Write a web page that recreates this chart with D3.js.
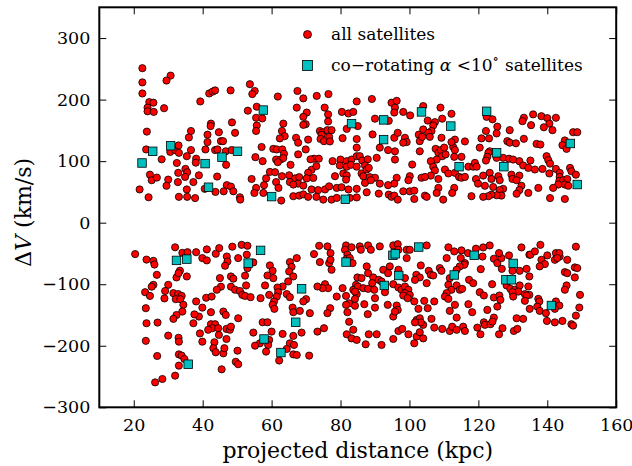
<!DOCTYPE html>
<html>
<head>
<meta charset="utf-8">
<script src="https://cdn.jsdelivr.net/npm/d3@7"></script>
<style>
  body { margin: 0; background: #fff; }
  text { font-family: "DejaVu Serif", "Liberation Serif", serif; fill: #000; }
</style>
</head>
<body>
<div id="main"></div>
<script>
const ctx = {
    w: 632,
    h: 466,
    margin: {top: 7.3, right: 15.8, bottom: 58.7, left: 99.3},
    font: '"DejaVu Serif", "Liberation Serif", serif',
};

// axis ranges and ticks
const xDomain = [10, 160];
const yDomain = [-300, 350];
const xTicks = [20, 40, 60, 80, 100, 120, 140, 160];
const yTicks = [-300, -200, -100, 0, 100, 200, 300];

// all satellites, positive delta V : [projected distance (kpc), delta V (km/s)]
const upperSats = [
  [22.5,251],[22.5,228],[30.7,239],[29.5,231],[22.5,210],[24.5,196],[25.7,195],[24,187],[24,181],[25.8,180],
  [28.8,186],[39.3,197],[41.9,210],[42.9,213],[43.6,215],[48.1,215],[23.8,148],[42.4,161],[42.3,157],[48.5,163],
  [36.6,149],[36,138.5],[41.4,143],[44.7,147],[49.4,146],[41.4,131],[45.3,132.5],[45.9,132.5],[43.6,118],[44.3,119],
  [46.7,116],[48.4,118],[23.6,119],[30.6,115],[32,118],[33,125.5],[33.1,113.5],[36.6,118],[40.8,119],[35.4,108],
  [38.1,104],[38,97.5],[28.1,103],[32.5,97],[46.8,94],[35,87.4],[35.5,82],[34.9,74.4],[32.9,81],[38.9,77],
  [24.7,78],[25.2,69],[26.7,73.3],[30,70],[29.5,60],[32.8,66],[44.2,75],[37.3,66],[35.4,54],[40.6,55],
  [47,61],[48.2,58.7],[48.9,51],[43.7,50],[46.1,51],[21.7,54],[24.3,41.3],[33.1,42],[35.5,42],[37.8,40],
  [50.8,41.3],[50.9,37.5],
  [53.7,225],[55.1,214],[54.4,209],[61.8,205],[67.5,214],[69.2,202],[73.1,206],[76.5,209],[84.7,197],[53.1,182],
  [55.7,188.4],[55.5,170.5],[57.3,169.4],[55.7,158],[55.5,149],[67.3,187],[70.2,179],[69.2,172],[75.4,187],[76.4,176],
  [76.4,164.5],[80.4,180],[82.3,177.5],[83.7,180],[81.8,152.5],[63.4,161],[63,149],[63.8,140.6],[62.4,137],[69.9,160],
  [69.2,159],[74,149],[74.8,147],[76.2,150.4],[77.4,150.4],[74.5,143],[74.2,136],[75.2,132.5],[76.7,139.5],[76.9,132],
  [67.1,138],[67.7,130],[70.6,135],[80.6,137.4],[84.7,136],[57.1,123],[60.5,120],[61.5,119],[63.1,119],[63.6,112],
  [69.9,119],[67.7,111],[55.3,106.5],[57.4,100],[61.3,102.6],[62.6,102.6],[63.4,105],[72.3,104],[73.7,104],[71.3,103],
  [77.7,100],[80,102.6],[81.8,100],[83.2,102.6],[84.7,108],[65.5,94],[61.8,98.3],[71.6,86],[70.6,81],[73,92],
  [79.8,93],[81.8,91],[83,94],[84.7,91],[59.5,82.5],[61,82],[63,75.5],[65.1,77],[66.8,72],[65.3,66],
  [68,74],[67.7,63.5],[70.2,72],[72.1,72.8],[78.4,75.5],[80.8,80],[81.8,77],[81.6,70],[54.2,71],[58.4,72],
  [57.8,61],[61.3,66],[62,56.5],[66.3,62],[69.2,60.3],[71.6,54],[73.5,53],[75.5,54],[76.7,59],[78.9,56.5],
  [80.3,57.6],[82.3,54],[84.7,55],[55.5,56.5],[55,48.3],[57.6,48.3],[62.8,36],[66.3,43],[68,44],[69.2,46],
  [70.6,42],[73,42],[75,37.5],[77.4,37.5],[78.9,40.2],[82.7,40.2],
  [89.1,201],[94.8,195],[96.3,198],[95.8,187],[95.6,179],[98.2,180],[100.2,174.3],[104,189.5],[109,187],[112.2,177],
  [90,169],[94,165.6],[105.3,166],[107.4,163.4],[106.9,158],[106.4,149],[109.5,169],[85,157],[89.3,143.4],[95.6,138],
  [96.6,146],[98.7,138],[99.2,131],[98.2,130],[93.8,118],[95.8,116],[91.4,122],[102.7,143],[103,132.5],[104,151.5],
  [103.7,139.5],[105.5,146],[105.9,139.5],[109.3,138],[113.2,135],[112.7,123],[112.2,131],[116.1,132],[84.7,122],[85.6,108],
  [86.3,101],[87.9,103],[87.1,93],[86.1,80],[87.6,86.4],[88.2,89],[86.6,75.5],[88.5,74],[87.1,64.6],[90.5,105.4],
  [95.8,102.6],[100.8,94.5],[103,116],[107.6,120],[108.4,113.5],[109.1,118],[109.5,108],[110.5,111],[110.1,122],[107.9,102.6],
  [113.2,118],[113,107],[115.1,107],[106.2,100],[106.9,91],[107.4,85],[117.1,91],[118.5,91],[110.3,86.4],[111.3,80],
  [113.2,81],[114.4,74.4],[115.1,73],[116.1,74.4],[108.4,71],[108.4,56.5],[106.2,76.5],[103.5,73],[104.5,74.4],[96.3,73],
  [95.6,63.5],[100.1,75.5],[99.7,69],[93.8,61],[91.4,63.5],[90,73],[88.8,69],[87.6,49.4],[91.1,47.3],[94,45.6],
  [94.8,42],[95.6,44],[96.6,37.5],[98.2,51],[100.1,51],[101.4,52],[101.4,38.5],[104.5,44],[105,42],[107.9,48.3],
  [109.8,37.5],[113,56.5],[112.4,48.3],[118,43],[84.7,41],
  [122.4,172],[124.1,168],[133.2,170.5],[132.8,165],[135.9,176],[138.3,173],[140,170],[142.5,170.5],[140.6,161],[139,155],
  [135.3,158.5],[141.5,150.4],[147.5,147],[148.7,147],[125.5,156],[125.3,145],[122.2,149],[123.1,137],[120.9,137],[129.1,150.4],
  [128.4,132.5],[129.1,130],[130.9,129],[133.2,136.3],[136.9,128],[138,127],[145.1,133.6],[144.4,126],[145.6,120],[120.4,122],
  [123.3,116],[122.9,113.5],[122.6,107],[122.2,101],[125.3,105.4],[127.2,105.4],[128.9,104],[139.8,108],[140.3,101.6],[140.8,96],
  [119,97.2],[119.5,91],[130.1,102.6],[131.9,100],[133,93],[134.5,89],[135.1,101],[136.4,86.4],[138.6,87.4],[140.6,80],
  [142.5,87.4],[143.6,81],[146.6,89],[147,83.6],[148.3,78],[121.4,76.5],[123.3,81],[125.8,75.5],[123.8,71],[126.2,69],
  [129.6,78],[129.9,71],[131.9,76.5],[131.1,69],[119.3,71],[119.9,63.5],[143.6,74.4],[143.5,68],[144.6,69],[145.8,71],
  [145.1,62],[146.1,60],[143.2,62],[141.7,56.5],[121.9,60],[124.3,58],[127.2,55],[126.2,53],[132.5,60],[131.9,53],
  [137.4,56.5],[134.5,48.3],[131.1,47],[126.7,44],[125.3,44.6],[123.8,45.6],[122.9,43],[121.4,42],[140.8,40],[145.1,38.5]
];

// all satellites, negative delta V
const lowerSats = [
  [20.4,-51],[23.7,-60],[25.7,-62],[26,-68],[32,-40],[34.1,-49],[35.6,-48],[38.1,-48],[41.2,-43.4],[39.9,-57.5],
  [41.2,-61.3],[43.8,-50.5],[44.8,-41.3],[47,-55],[47.2,-63],[46.5,-70],[48.6,-39],[50.3,-57.5],[51.3,-36],[26.7,-84.7],
  [25.7,-101],[25.2,-104],[23.3,-113],[24.7,-119],[33.4,-78],[32.4,-89],[35.4,-87.4],[33,-82],[30,-101],[29.1,-111],
  [28.9,-123],[31.5,-114.5],[32.9,-116],[33.9,-119],[32.2,-124.3],[33.5,-124.3],[34.4,-133.5],[34.1,-144.4],[32.4,-150],[31.5,-156.3],
  [23.5,-139],[23.7,-163.4],[26.9,-162.3],[23.5,-192],[30,-183.5],[33,-187],[33.1,-193.3],[26.8,-216.6],[33.1,-214],[33.9,-216],
  [34.7,-221.5],[33.1,-232.3],[32,-248.6],[28.3,-254],[26.2,-259.5],[45.5,-238.3],[38.1,-128],[39.9,-138],[38.9,-152.5],[37.6,-149],
  [37.3,-163.4],[41,-122],[42.6,-120],[42.4,-145.5],[39.2,-180],[39.9,-193.3],[42.4,-165],[43.6,-165],[42.8,-171.5],[41.6,-174],
  [44.5,-171.5],[44.7,-182.4],[43.4,-194.3],[43.1,-204],[43.8,-210.6],[46,-212.3],[46.3,-204],[46.9,-189],[46.9,-172.6],[47.9,-174],
  [48.2,-169],[46,-144.4],[46.7,-150],[50.3,-155.3],[50.1,-208],[49.6,-226],[50.3,-230],[45,-90],[45.3,-104],[44.1,-109],
  [48.2,-87.4],[48.9,-91],[48.2,-104],[49.4,-109],[50.8,-111],[51.5,-117.3],
  [53,-37.5],[52.8,-52],[54.7,-64.6],[53,-74],[52.3,-86],[59.5,-69.5],[60.3,-78.2],[58.8,-85.8],[60.5,-90.1],[65.3,-64],
  [65.8,-71.7],[67.3,-57.5],[65.1,-79.3],[66.3,-87.4],[64.8,-95.5],[63.2,-103.7],[61.7,-105.3],[61.9,-113],[58.1,-102],[52.6,-102],
  [52.3,-119],[53.9,-121],[56.8,-122.7],[59.3,-117.3],[61.5,-120],[64.4,-116],[65.3,-121],[60.7,-128],[60.3,-133.5],[60.8,-140],
  [70,-124.3],[69.2,-128],[66.1,-138],[66.3,-145.5],[68.2,-143.3],[71.1,-147],[57.4,-161.8],[58.8,-161.8],[54.7,-178.6],[60,-177],
  [63.2,-180.8],[66.3,-184],[68.7,-178.6],[59.3,-190.5],[59,-198.7],[56.6,-196],[55.2,-199.8],[58.4,-209.5],[65.3,-196],[66.5,-198.7],
  [64.4,-205.2],[62.2,-224],[66.3,-214],[67.3,-215],[70.9,-216],[73.3,-177],[75.2,-171.5],[72.3,-51],[73.8,-37.5],[76.2,-38.5],
  [77.1,-49.4],[74,-64],[76.7,-65.7],[77.1,-60.3],[77.4,-76.5],[75.5,-100],[76.4,-106.4],[74.8,-106.4],[73.3,-103.7],[78.9,-120],
  [80.6,-106.4],[77,-139],[76.2,-147],[81.6,-37],[83.2,-40],[81.3,-44],[82,-52],[81.8,-58.6],[82.7,-57.5],[83.5,-65.7],
  [84.9,-89],[84.5,-101],[83.7,-109],[84.7,-116],[84.2,-124],[81.6,-119],[82.5,-131],[84.2,-135],[82,-145.5],[82.5,-161],
  [81.6,-133.5],[81.8,-181.3],[83.2,-188],[84.7,-190.5],[83.7,-174],
  [85.6,-38.5],[85.9,-44],[88,-37],[88.8,-44],[91.4,-38.5],[95.3,-37],[96.6,-35],[96.8,-44],[99.2,-44],[100.1,-44],
  [99.2,-57.5],[105,-37],[111.3,-40],[113,-46.7],[115.1,-45],[117,-49.4],[110.8,-57.5],[114.9,-57.5],[116.1,-65.7],[115.9,-68.4],
  [114.6,-71],[87.6,-71],[88,-82],[86.1,-90],[89.5,-89],[89.2,-98.3],[91.1,-92.8],[91.9,-95.5],[92.4,-76.5],[94.3,-71],
  [93.8,-82],[96.8,-76.5],[98.7,-90],[85.1,-103.7],[84.2,-112],[86.6,-106.4],[88,-107.5],[89.8,-109],[90,-122.7],[92.9,-113],
  [95.3,-100],[96.8,-105.3],[97.7,-109],[98.7,-103.7],[99.7,-109],[98.7,-114.5],[98.2,-118.3],[100.1,-117.3],[99.5,-122.7],[102,-84.7],
  [103,-89],[103.3,-69.5],[105.6,-78.2],[106.2,-84.7],[106.9,-85.8],[101.6,-93],[105,-98.3],[108.8,-73.8],[109.3,-78.2],[111.7,-90.1],
  [113.7,-76.5],[111.3,-101],[112.2,-109],[113.7,-102],[114.6,-109],[115.3,-107.5],[110.8,-114.5],[110.3,-120],[111.3,-123.8],[117.3,-92.8],
  [118.5,-98.3],[113.2,-133.5],[117.1,-132.5],[118.2,-145.5],[86.9,-132.5],[90,-138],[93.7,-133.5],[96.3,-134.6],[96.6,-141.7],[101.4,-128],
  [102.6,-140],[104.3,-127],[105.3,-139],[107.2,-128],[87.9,-148.7],[95.3,-152.5],[95.8,-144.4],[102.1,-158],[103,-155.3],[104,-166],
  [103.3,-162],[106.4,-156.3],[101.6,-162],[113.7,-154.2],[111.7,-143.3],[88.2,-181.3],[90.5,-181.3],[96.8,-176],[97.9,-172.6],[99.7,-181.3],
  [102.1,-185],[103,-178],[104,-188],[101.4,-196],[107.2,-170.5],[109.5,-172.6],[111.7,-176],[112.4,-169],[113.7,-174],[115.6,-169],
  [116.1,-176],[87.3,-197.6],[91.9,-198.7],[95.3,-189],
  [119.3,-42.3],[121.4,-40.2],[123.3,-37],[121.2,-55],[124.5,-58.6],[125.5,-65.7],[126.7,-57.5],[126,-49.4],[128.9,-53.2],[132.5,-40.2],
  [134.8,-52],[135.1,-52],[136.4,-46.7],[138,-36],[140,-53.2],[142.5,-49.4],[143.6,-55],[143.5,-49.4],[145.8,-60.3],[148.3,-39],
  [138.3,-60.3],[139.3,-67.3],[137.8,-71],[142.2,-60.3],[142.9,-57.5],[120.7,-75.5],[126.8,-75],[129.9,-78.2],[132,-78.2],[134,-75],
  [134.8,-87.4],[134.5,-103.7],[134.8,-117.3],[128.2,-102],[129.3,-107.5],[130.6,-109],[132,-102],[131.6,-112],[129.9,-113],[130.1,-120],
  [133.5,-116],[134,-118.3],[124,-100],[145.1,-80.3],[145.8,-82],[148,-72.7],[148.7,-73.8],[148,-89],[145.6,-102],[145.1,-109],
  [149.5,-117.3],[120.4,-113],[121.6,-118.3],[124.5,-121.6],[126.1,-118.3],[126.4,-125.4],[125.5,-136.3],[122.6,-141.7],[133.5,-127],[134.9,-140],
  [137.4,-123.8],[137.7,-128],[137.1,-136.3],[137.8,-143.3],[139.6,-147],[139.9,-159.6],[142.2,-162],[144.4,-159.6],[147,-165],[147.5,-167.2],
  [148.3,-151],[142.5,-128],[143.5,-134.6],[142.2,-140],[149.3,-137.9],[131.1,-155.3],[133,-156.3],[124.5,-154.2],[121.6,-161.8],[119.7,-170.5],
  [121.9,-166],[123.5,-165],[124.1,-160.7],[127,-171.5],[126,-181.3],[120.6,-181.3],[130.3,-176],[131.3,-172.6]
];

// co-rotating satellites with alpha < 10 deg
const upperCoRot = [
  [22.4,97],[25.5,116],[30.7,125],[40.7,96],[41.7,57.6],[45.6,106.5],[50.1,116],[57.6,183],[60,42.4],[81.4,38],
  [83.2,161],[92.5,167],[92.5,135],[103.5,180],[112,157],[114.4,91],[122.4,181],[125.3,113.5],[127.4,91],[146.7,128.7],
  [148.7,62]
];
const lowerCoRot = [
  [32.4,-61.3],[35.4,-59.2],[35.8,-230],[53.2,-65.7],[56.8,-45],[57.8,-189],[62.7,-211],[67,-161.8],[68.7,-107.5],[81.6,-64],
  [92.7,-102],[95.2,-53],[95.9,-50.5],[96.9,-85.8],[102.7,-39.6],[113,-85],[118.8,-53],[128,-92.8],[129.6,-92.8],[130.1,-66.2],
  [141.2,-134.6]
];

const legendLabels = ["all satellites", "co\u2212rotating"];

function createScatter(svgEl) {
    const m = ctx.margin;
    const pw = ctx.w - m.left - m.right;
    const ph = ctx.h - m.top - m.bottom;
    const g = svgEl.append("g").attr("transform", `translate(${m.left},${m.top})`);

    const x = d3.scaleLinear().domain(xDomain).range([0, pw]);
    const y = d3.scaleLinear().domain(yDomain).range([ph, 0]);

    // ticks pointing inward on all four sides
    const tickLen = 7;
    g.append("g").attr("class", "axis")
        .attr("transform", `translate(0,${ph})`)
        .call(d3.axisBottom(x).tickValues(xTicks).tickSizeInner(-tickLen).tickSizeOuter(0).tickPadding(11));
    g.append("g").attr("class", "axis")
        .call(d3.axisTop(x).tickValues(xTicks).tickSizeInner(-tickLen).tickSizeOuter(0).tickFormat(""));
    g.append("g").attr("class", "axis")
        .call(d3.axisLeft(y).tickValues(yTicks).tickSizeInner(-tickLen).tickSizeOuter(0).tickPadding(9));
    g.append("g").attr("class", "axis")
        .attr("transform", `translate(${pw},0)`)
        .call(d3.axisRight(y).tickValues(yTicks).tickSizeInner(-tickLen).tickSizeOuter(0).tickFormat(""));

    g.selectAll(".axis").attr("font-family", ctx.font).attr("font-size", 17.5);
    g.selectAll(".axis .domain").remove();
    g.selectAll(".axis line").attr("stroke", "#000").attr("stroke-width", 1);
    g.selectAll(".axis text").attr("fill", "#000");

    // points
    const allSats = upperSats.concat(lowerSats);
    const coRot = upperCoRot.concat(lowerCoRot);

    g.append("g").selectAll("circle")
        .data(allSats)
        .enter().append("circle")
        .attr("cx", d => x(d[0]))
        .attr("cy", d => y(d[1]))
        .attr("r", 3.6)
        .attr("fill", "#ff0000")
        .attr("stroke", "#000")
        .attr("stroke-width", 0.8);

    const sq = 8.5;
    g.append("g").selectAll("rect")
        .data(coRot)
        .enter().append("rect")
        .attr("x", d => x(d[0]) - sq / 2)
        .attr("y", d => y(d[1]) - sq / 2)
        .attr("width", sq)
        .attr("height", sq)
        .attr("fill", "#00bfbf")
        .attr("stroke", "#000")
        .attr("stroke-width", 0.8);

    // frame
    g.append("rect")
        .attr("width", pw).attr("height", ph)
        .attr("fill", "none")
        .attr("stroke", "#000")
        .attr("stroke-width", 2);

    // legend
    const lg = svgEl.append("g").attr("transform", "translate(307.5,0)")
        .attr("font-family", ctx.font).attr("font-size", 17);
    lg.append("circle").attr("cx", 0).attr("cy", 34.5).attr("r", 4)
        .attr("fill", "#ff0000").attr("stroke", "#000").attr("stroke-width", 0.8);
    lg.append("rect").attr("x", -5).attr("y", 60.5).attr("width", 10).attr("height", 10)
        .attr("fill", "#00bfbf").attr("stroke", "#000").attr("stroke-width", 0.8);
    lg.append("text").attr("x", 23.5).attr("y", 40).text(legendLabels[0]);
    const t2 = lg.append("text").attr("x", 23.5).attr("y", 71);
    t2.append("tspan").text(legendLabels[1] + " ");
    t2.append("tspan").attr("font-style", "italic").text("\u03b1");
    t2.append("tspan").text(" <10");
    t2.append("tspan").attr("dy", -8).attr("font-size", 13).text("\u2218");
    t2.append("tspan").attr("dy", 8).attr("dx", 6).text("satellites");

    // axis labels
    svgEl.append("text")
        .attr("x", m.left + pw / 2).attr("y", 458)
        .attr("text-anchor", "middle")
        .attr("font-family", ctx.font).attr("font-size", 22)
        .text("projected distance (kpc)");

    const yl = svgEl.append("text")
        .attr("transform", `translate(31,${m.top + ph / 2 + 5}) rotate(-90)`)
        .attr("text-anchor", "middle")
        .attr("font-family", ctx.font).attr("font-size", 22);
    yl.append("tspan").text("\u0394");
    yl.append("tspan").attr("font-style", "italic").text("V");
    yl.append("tspan").text(" (km/s)");
}

function createViz() {
    console.log("Using D3 v" + d3.version);
    const svgEl = d3.select("#main").append("svg")
        .attr("width", ctx.w)
        .attr("height", ctx.h);
    createScatter(svgEl);
}

createViz();
</script>
</body>
</html>
